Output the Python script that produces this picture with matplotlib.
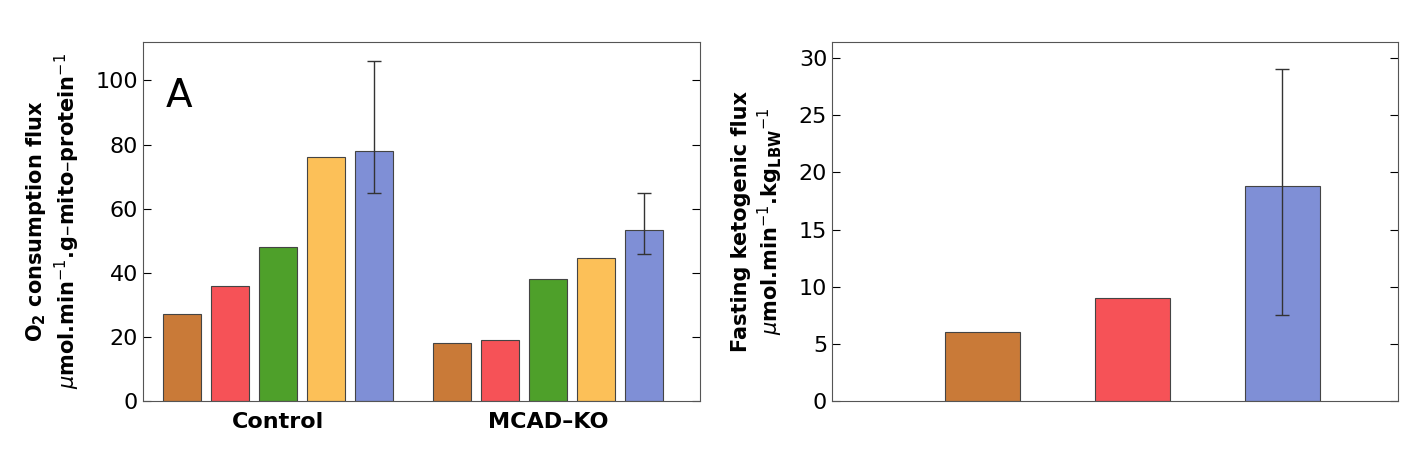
import matplotlib.pyplot as plt
import numpy as np

colors = ["#C97A38", "#F65257", "#4EA02A", "#FCC058", "#7F8FD6"]

# panel A
control_vals = [27, 36, 48, 76, 78]
mcad_vals = [18, 19, 38, 44.5, 53.5]
control_err = (65, 106)   # low/high of last bar
mcad_err = (46, 65)
group_labels = ["Control", "MCAD\u2013KO"]

# right panel
keto_vals = [6, 9, 18.8]
keto_err = (7.5, 29)
keto_colors = [colors[0], colors[1], colors[4]]

fig = plt.figure(figsize=(14.12, 4.51), dpi=100)
ax1 = fig.add_axes([143 / 1412, 50 / 451, 557 / 1412, 359 / 451])
ax2 = fig.add_axes([832 / 1412, 50 / 451, 566 / 1412, 359 / 451])

x = np.arange(5)
for off, vals, err in [(0, control_vals, control_err), (5.625, mcad_vals, mcad_err)]:
    ax1.bar(x + off, vals, width=0.8, color=colors, edgecolor="#444444", linewidth=0.8)
    mid = (err[0] + err[1]) / 2
    ax1.errorbar(4 + off, mid, yerr=(err[1] - err[0]) / 2, fmt="none",
                 ecolor="#333333", elinewidth=1, capsize=5)
ax1.set_xlim(-0.81, 10.79)
ax1.set_ylim(0, 112)
ax1.set_yticks([0, 20, 40, 60, 80, 100])
ax1.set_xticks([2, 7.625])
ax1.set_xticklabels(group_labels, fontsize=16, fontweight="bold")
ax1.tick_params(axis="x", length=0, pad=8)
ax1.tick_params(axis="y", direction="in", labelsize=16, right=True, length=6)
ax1.text(0.04, 0.82, "A", transform=ax1.transAxes, fontsize=28)
ax1.set_ylabel("$\\mathbf{O_2}$ consumption flux\n"
               "$\\mu$mol.min$^{-1}$.g\u2013mito\u2013protein$^{-1}$",
               fontsize=15, fontweight="bold", labelpad=10)

xk = np.arange(1, 4)
ax2.bar(xk, keto_vals, width=0.5, color=keto_colors, edgecolor="#444444", linewidth=0.8)
ax2.errorbar(3, (keto_err[0] + keto_err[1]) / 2, yerr=(keto_err[1] - keto_err[0]) / 2,
             fmt="none", ecolor="#333333", elinewidth=1, capsize=5)
ax2.set_xlim(0, 3.77)
ax2.set_ylim(0, 31.4)
ax2.set_yticks(range(0, 31, 5))
ax2.set_xticks([])
ax2.tick_params(axis="y", direction="in", labelsize=16, right=True, length=6)
ax2.set_ylabel("Fasting ketogenic flux\n"
               "$\\mu$mol.min$^{-1}$.kg$_{\\mathbf{LBW}}$$^{-1}$",
               fontsize=15, fontweight="bold", labelpad=10)

for ax in (ax1, ax2):
    for s in ax.spines.values():
        s.set_color("#555555")

fig.savefig("out.png", dpi=100)
